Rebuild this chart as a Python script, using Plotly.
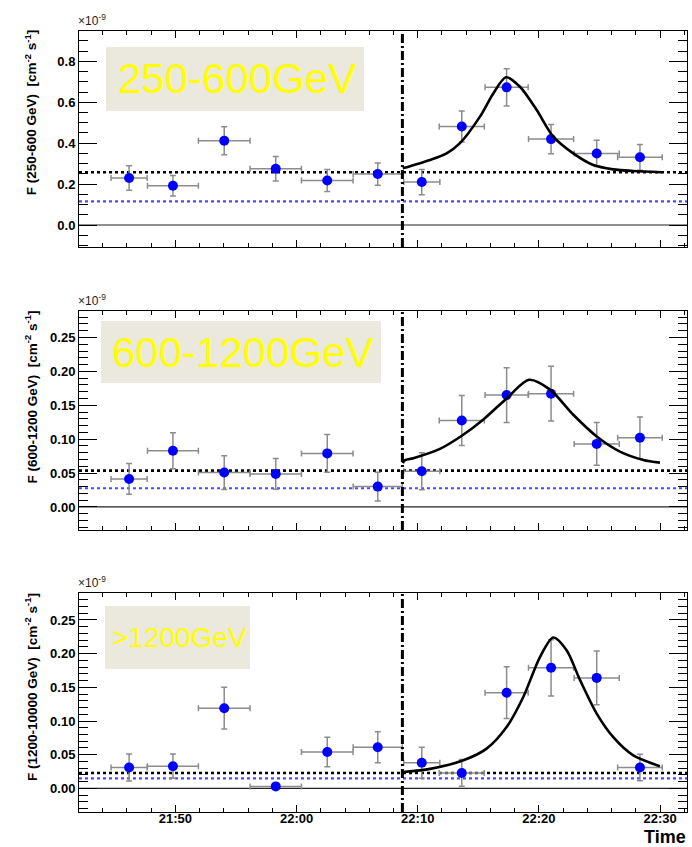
import plotly.graph_objects as go

W, H = 692, 847

# ---- data (flux in units of 1e-9 cm^-2 s^-1) ----
BIN_TIMES = ["21:46:11", "21:49:48", "21:54:02", "21:58:17", "22:02:32", "22:06:42",
             "22:10:20", "22:13:38", "22:17:20", "22:21:00", "22:24:46", "22:28:20"]
BIN_HALF_MIN = [1.49, 2.10, 2.13, 2.12, 2.13, 2.03, 1.49, 1.86, 1.78, 1.86, 1.86, 1.84]

FLUX_250_600 = [0.230, 0.192, 0.412, 0.275, 0.218, 0.249, 0.210, 0.482, 0.673, 0.420, 0.350, 0.331]
ERR_250_600 = [0.060, 0.050, 0.069, 0.060, 0.054, 0.054, 0.062, 0.076, 0.091, 0.072, 0.064, 0.063]

FLUX_600_1200 = [0.0413, 0.083, 0.0507, 0.0487, 0.079, 0.030, 0.0527, 0.1275, 0.165, 0.167, 0.093, 0.102]
ERR_600_1200 = [0.0226, 0.0266, 0.0249, 0.0226, 0.0278, 0.0212, 0.0273, 0.0367, 0.0404, 0.0404, 0.0315, 0.0308]

FLUX_1200_10000 = [0.031, 0.033, 0.119, 0.003, 0.054, 0.061, 0.038, 0.023, 0.142, 0.179, 0.164, 0.031]
ERR_1200_10000 = [0.020, 0.018, 0.031, 0.004, 0.022, 0.023, 0.023, 0.0198, 0.0384, 0.0417, 0.040, 0.0196]

# flare model curves sampled along the fit
FIT_T_250_600 = ["22:08:46", "22:11:01", "22:12:23", "22:13:29", "22:15:08", "22:16:14", "22:17:17",
                 "22:18:26", "22:19:49", "22:21:11", "22:22:50", "22:24:29", "22:26:08", "22:27:47", "22:30:08"]
FIT_F_250_600 = [0.277, 0.318, 0.350, 0.400, 0.530, 0.643, 0.722,
                 0.676, 0.562, 0.432, 0.350, 0.293, 0.272, 0.264, 0.258]

FIT_T_600_1200 = ["22:08:46", "22:08:57", "22:09:38", "22:11:50", "22:13:38", "22:15:25", "22:17:20",
                  "22:19:11", "22:20:55", "22:22:50", "22:24:46", "22:26:41", "22:28:37", "22:29:59"]
FIT_F_600_1200 = [0.0645, 0.069, 0.072, 0.0857, 0.105, 0.129, 0.160,
                  0.1875, 0.173, 0.136, 0.104, 0.0817, 0.0694, 0.0654]

FIT_T_1200_10000 = ["22:08:49", "22:11:01", "22:13:46", "22:15:41", "22:17:20", "22:18:43", "22:20:05",
                    "22:21:11", "22:22:17", "22:23:23", "22:24:46", "22:26:08", "22:27:47", "22:29:59"]
FIT_F_1200_10000 = [0.0243, 0.029, 0.0417, 0.059, 0.091, 0.136, 0.195,
                    0.224, 0.205, 0.161, 0.111, 0.076, 0.049, 0.033]

BASELINE = [0.258, 0.0536, 0.0228]      # black dotted
BASELINE_BLUE = [0.116, 0.0276, 0.015]  # blue dotted
FLARE_START = "22:08:44"

BAND_LABELS = ["250-600GeV", "600-1200GeV", ">1200GeV"]
Y_TITLES = ["F (250-600 GeV)  [cm<sup>-2</sup> s<sup>-1</sup>]",
            "F (600-1200 GeV)  [cm<sup>-2</sup> s<sup>-1</sup>]",
            "F (1200-10000 GeV)  [cm<sup>-2</sup> s<sup>-1</sup>]"]
TIME_TICKS = ["21:50", "22:00", "22:10", "22:20", "22:30"]
X_RANGE = ["21:42:03", "22:32:13"]


def minutes(t):
    p = [int(v) for v in t.split(":")]
    while len(p) < 3:
        p.append(0)
    return p[0] * 60 + p[1] + p[2] / 60.0


# ---- layout geometry (pixels) ----
X_LEFT, X_RIGHT = 79, 687
FRAMES = [(30.7, 247.0), (311.0, 530.0), (593.0, 812.0)]   # top/bottom of each frame
Y_RANGES = [(-0.1075, 0.950), (-0.034, 0.289), (-0.035, 0.290)]
Y_TICKS = [[0, 0.2, 0.4, 0.6, 0.8], [0, 0.05, 0.10, 0.15, 0.20, 0.25], [0, 0.05, 0.10, 0.15, 0.20, 0.25]]
Y_FMT = [".1f", ".2f", ".2f"]
Y_MINOR = [0.05, 0.01, 0.01]
BOXES = [(106, 364, 47, 111, 42), (101, 381, 321, 383, 42), (105, 250, 606, 669, 28)]

fluxes = [FLUX_250_600, FLUX_600_1200, FLUX_1200_10000]
errors = [ERR_250_600, ERR_600_1200, ERR_1200_10000]
fit_t = [FIT_T_250_600, FIT_T_600_1200, FIT_T_1200_10000]
fit_f = [FIT_F_250_600, FIT_F_600_1200, FIT_F_1200_10000]

px = lambda x: x / W
py = lambda y: 1 - y / H

bx = [minutes(t) for t in BIN_TIMES]
xr = [minutes(t) for t in X_RANGE]
tick_vals = [minutes(t) for t in TIME_TICKS]
t_flare = minutes(FLARE_START)

fig = go.Figure()
shapes, annotations = [], []
TICK_FONT = dict(family="Liberation Sans", size=13, color="black", weight="bold")

for i in range(3):
    n = "" if i == 0 else str(i + 1)
    xa, ya = "x" + n, "y" + n
    top, bot = FRAMES[i]

    # horizontal reference lines
    shapes.append(dict(type="line", xref=xa + " domain", yref=ya, x0=0, x1=1, y0=0, y1=0,
                       line=dict(color="#222222", width=1.2), layer="below"))
    shapes.append(dict(type="line", xref=xa + " domain", yref=ya, x0=0, x1=1,
                       y0=BASELINE_BLUE[i], y1=BASELINE_BLUE[i],
                       line=dict(color="#4a4aff", width=2.2, dash="3px,3px"), layer="below"))
    shapes.append(dict(type="line", xref=xa + " domain", yref=ya, x0=0, x1=1,
                       y0=BASELINE[i], y1=BASELINE[i],
                       line=dict(color="black", width=2.6, dash="3px,3px"), layer="below"))

    # flux points
    fig.add_trace(go.Scatter(
        x=bx, y=fluxes[i], mode="markers", xaxis=xa, yaxis=ya,
        marker=dict(color="#0000ff", size=10, line=dict(width=0)),
        error_x=dict(type="data", array=BIN_HALF_MIN, color="#8c8c8c", thickness=1.5, width=3),
        error_y=dict(type="data", array=errors[i], color="#8c8c8c", thickness=1.5, width=3),
        showlegend=False, hoverinfo="skip"))

    # fit curve
    fig.add_trace(go.Scatter(
        x=[minutes(t) for t in fit_t[i]], y=fit_f[i], mode="lines", xaxis=xa, yaxis=ya,
        line=dict(color="black", width=2.6, shape="spline", smoothing=0.8),
        showlegend=False, hoverinfo="skip"))

    # flare onset
    shapes.append(dict(type="line", xref=xa, yref=ya + " domain", x0=t_flare, x1=t_flare, y0=0, y1=1,
                       line=dict(color="black", width=3, dash="9px,3px,2px,3px")))

    # energy band box
    x0, x1, y0, y1, fs = BOXES[i]
    shapes.append(dict(type="rect", xref="paper", yref="paper", x0=px(x0), x1=px(x1),
                       y0=py(y1), y1=py(y0), fillcolor="#ebe8de", line=dict(width=0), layer="below"))
    annotations.append(dict(xref="paper", yref="paper", x=px((x0 + x1) / 2 + 2), y=py((y0 + y1) / 2),
                            text=BAND_LABELS[i], showarrow=False, xanchor="center", yanchor="middle",
                            font=dict(family="Liberation Sans", size=fs, color="#ffff00")))

    # axis title and exponent
    annotations.append(dict(xref="paper", yref="paper", x=px(31), y=py(top - 2), text=Y_TITLES[i],
                            textangle=-90, showarrow=False, xanchor="center", yanchor="top",
                            font=dict(family="Liberation Sans", size=13.5, color="black", weight="bold")))
    annotations.append(dict(xref="paper", yref="paper", x=px(76), y=py(top - 1),
                            text="×10<sup>-9</sup>", showarrow=False, xanchor="left", yanchor="bottom",
                            font=dict(family="Liberation Sans", size=12, color="#222222")))

    xaxis = dict(domain=[px(X_LEFT), px(X_RIGHT)], range=xr, anchor=ya,
                 showline=True, linecolor="black", linewidth=1, mirror="ticks",
                 ticks="inside", ticklen=7, tickcolor="black", tickwidth=1,
                 tickmode="array", tickvals=tick_vals, ticktext=TIME_TICKS,
                 showticklabels=(i == 2), tickfont=TICK_FONT, ticklabelstandoff=-6,
                 minor=dict(ticks="inside", ticklen=4, tickmode="linear", tick0=0, dtick=2,
                            tickcolor="black", showgrid=False),
                 showgrid=False, zeroline=False)
    yaxis = dict(domain=[py(bot), py(top)], range=list(Y_RANGES[i]), anchor=xa,
                 showline=True, linecolor="black", linewidth=1, mirror="ticks",
                 ticks="inside", ticklen=18, tickcolor="black", tickwidth=1,
                 tickmode="array", tickvals=Y_TICKS[i], tickformat=Y_FMT[i],
                 tickfont=TICK_FONT,
                 minor=dict(ticks="inside", ticklen=9, tickmode="linear", tick0=0, dtick=Y_MINOR[i],
                            tickcolor="black", showgrid=False),
                 showgrid=False, zeroline=False)
    fig.layout["xaxis" + n] = xaxis
    fig.layout["yaxis" + n] = yaxis

annotations.append(dict(xref="paper", yref="paper", x=px(688), y=py(837), text="Time",
                        showarrow=False, xanchor="right", yanchor="middle",
                        font=dict(family="Liberation Sans", size=18, color="black", weight="bold")))

fig.update_layout(width=W, height=H, margin=dict(l=0, r=0, t=0, b=0),
                  paper_bgcolor="white", plot_bgcolor="white",
                  shapes=shapes, annotations=annotations, showlegend=False)

fig.write_html("out.html")
